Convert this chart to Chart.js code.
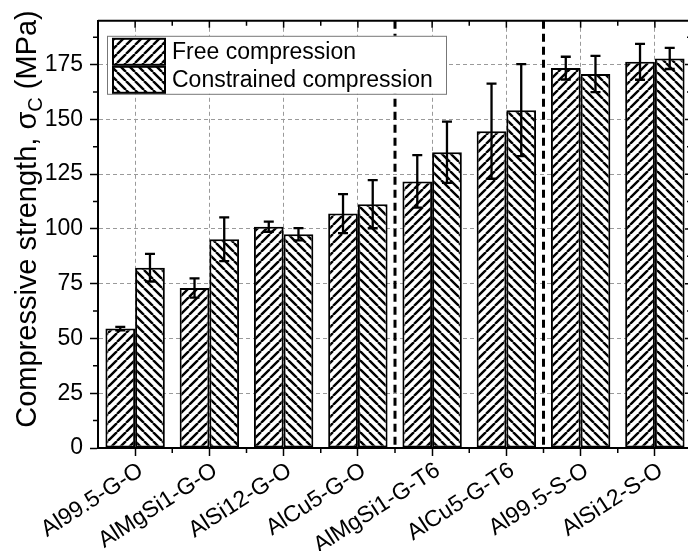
<!DOCTYPE html>
<html>
<head>
<meta charset="utf-8">
<script src="https://cdn.jsdelivr.net/npm/chart.js@4.4.1/dist/chart.umd.min.js"></script>
<style>
  html, body { margin: 0; padding: 0; background: #fff; overflow: hidden; width: 688px; height: 551px; }
  canvas { display: block; }
</style>
</head>
<body>
<canvas id="chart" width="695" height="551"></canvas>
<script>
// Compressive strength of cast (G) and sintered (S) alloys, free vs constrained.
const categories = ['Al99.5-G-O', 'AlMgSi1-G-O', 'AlSi12-G-O', 'AlCu5-G-O', 'AlMgSi1-G-T6', 'AlCu5-G-T6', 'Al99.5-S-O', 'AlSi12-S-O'];
const freeValues = [54.5, 73, 101, 107, 121.7, 144.6, 173.4, 176.3];
const freeErrors = [0.8, 4.4, 2.3, 8.9, 12, 21.7, 5.2, 8.2];
const constrainedValues = [82.3, 95.3, 97.6, 111.3, 135, 154.2, 170.7, 177.8];
const constrainedErrors = [6.3, 10, 2.8, 11, 14, 21, 8.3, 4.8];
const yTicks = [0, 25, 50, 75, 100, 125, 150, 175];
const separators = [3.5, 5.5];

const FONT = '"Liberation Sans", Arial, sans-serif';

// Black hatch on white, "/" for dir=1 and "\" for dir=-1.
function hatch(dir) {
    const s = 9;
    const c = document.createElement('canvas');
    c.width = s; c.height = s;
    const g = c.getContext('2d');
    g.fillStyle = '#fff';
    g.fillRect(0, 0, s, s);
    g.strokeStyle = '#000';
    g.lineWidth = 2.4;
    g.beginPath();
    for (const x0 of [-s, 0, s]) {
        if (dir > 0) { g.moveTo(x0, s); g.lineTo(x0 + s, 0); }
        else { g.moveTo(x0, 0); g.lineTo(x0 + s, s); }
    }
    g.stroke();
    return document.getElementById('chart').getContext('2d').createPattern(c, 'repeat');
}

const freeHatch = hatch(1);
const constrainedHatch = hatch(-1);

const decorPlugin = {
    id: 'decor',
    beforeDatasetsDraw(chart) {
        const { ctx, chartArea: a, scales: { x } } = chart;
        const step = x.getPixelForValue(1) - x.getPixelForValue(0);
        const px = v => x.getPixelForValue(0) + v * step;
        ctx.save();
        ctx.strokeStyle = '#000';
        ctx.lineWidth = 3;
        ctx.setLineDash([8, 5]);
        for (const s of separators) {
            ctx.beginPath();
            ctx.moveTo(px(s), a.top);
            ctx.lineTo(px(s), a.bottom);
            ctx.stroke();
        }
        ctx.restore();
    },
    afterDatasetsDraw(chart) {
        const { ctx, chartArea: a, scales: { x, y } } = chart;
        const step = x.getPixelForValue(1) - x.getPixelForValue(0);
        const px = v => x.getPixelForValue(0) + v * step;

        // error bars
        ctx.save();
        ctx.strokeStyle = '#000';
        ctx.lineWidth = 2.3;
        chart.data.datasets.forEach((ds, di) => {
            chart.getDatasetMeta(di).data.forEach((bar, i) => {
                const v = ds.data[i], e = ds.errors[i];
                const y1 = y.getPixelForValue(v + e), y2 = y.getPixelForValue(v - e);
                ctx.beginPath();
                ctx.moveTo(bar.x, y1); ctx.lineTo(bar.x, y2);
                ctx.moveTo(bar.x - 5, y1); ctx.lineTo(bar.x + 5, y1);
                ctx.moveTo(bar.x - 5, y2); ctx.lineTo(bar.x + 5, y2);
                ctx.stroke();
            });
        });

        // top and right frame with inward ticks, minor ticks outside
        ctx.lineWidth = 2;
        ctx.beginPath();
        ctx.moveTo(a.left, a.top); ctx.lineTo(a.right, a.top); ctx.lineTo(a.right, a.bottom);
        ctx.stroke();
        ctx.lineWidth = 1.5;
        ctx.beginPath();
        for (let i = 0; i < categories.length; i++) {
            ctx.moveTo(px(i), a.top); ctx.lineTo(px(i), a.top + 7);
            ctx.moveTo(px(i + 0.5), a.top); ctx.lineTo(px(i + 0.5), a.top + 5);
            ctx.moveTo(px(i + 0.5), a.bottom); ctx.lineTo(px(i + 0.5), a.bottom + 5);
        }
        for (let v = 12.5; v < 195; v += 12.5) {
            const yy = y.getPixelForValue(v);
            const major = v % 25 === 0;
            ctx.moveTo(a.right, yy); ctx.lineTo(a.right - (major ? 7 : 5), yy);
            if (!major) { ctx.moveTo(a.left, yy); ctx.lineTo(a.left - 5, yy); }
        }
        ctx.stroke();

        // legend
        const lx = a.left + 9, ly = a.top + 15;
        ctx.fillStyle = '#fff';
        ctx.fillRect(lx, ly, 339, 58);
        ctx.strokeStyle = '#777';
        ctx.lineWidth = 1;
        ctx.strokeRect(lx + 0.5, ly + 0.5, 339, 58);
        const items = [[freeHatch, 'Free compression'], [constrainedHatch, 'Constrained compression']];
        items.forEach(([pat, text], k) => {
            const sy = ly + 3 + k * 28;
            ctx.fillStyle = pat;
            ctx.fillRect(a.left + 15, sy, 52, 26);
            ctx.strokeStyle = '#000';
            ctx.lineWidth = 2;
            ctx.strokeRect(a.left + 15, sy, 52, 26);
            ctx.fillStyle = '#000';
            ctx.font = '23px ' + FONT;
            ctx.textBaseline = 'middle';
            ctx.textAlign = 'left';
            ctx.fillText(text, a.left + 74, sy + 14);
        });

        // y axis title with subscript
        ctx.translate(36, 219);
        ctx.rotate(-Math.PI / 2);
        ctx.textBaseline = 'alphabetic';
        ctx.textAlign = 'left';
        const big = '29px ' + FONT, small = '20px ' + FONT;
        const p1 = 'Compressive strength, \u03C3', p2 = 'C', p3 = ' (MPa)';
        ctx.font = big; const w1 = ctx.measureText(p1).width, w3 = ctx.measureText(p3).width;
        ctx.font = small; const w2 = ctx.measureText(p2).width;
        let tx = -(w1 + w2 + w3) / 2;
        ctx.font = big; ctx.fillText(p1, tx, 0); tx += w1;
        ctx.font = small; ctx.fillText(p2, tx, 6); tx += w2;
        ctx.font = big; ctx.fillText(p3, tx, 0);
        ctx.restore();
    }
};

new Chart(document.getElementById('chart'), {
    type: 'bar',
    data: {
        labels: categories,
        datasets: [
            { label: 'Free compression', data: freeValues, errors: freeErrors, backgroundColor: freeHatch, borderColor: '#000', borderWidth: 2, borderSkipped: false },
            { label: 'Constrained compression', data: constrainedValues, errors: constrainedErrors, backgroundColor: constrainedHatch, borderColor: '#000', borderWidth: 2, borderSkipped: false },
        ]
    },
    options: {
        responsive: false,
        animation: false,
        layout: { padding: { top: 8, right: 3, left: 0, bottom: 0 } },
        datasets: { bar: { categoryPercentage: 0.8, barPercentage: 1 } },
        plugins: { legend: { display: false }, tooltip: { enabled: false } },
        scales: {
            x: {
                grid: { offset: false, color: '#9a9a9a', lineWidth: 1, tickColor: '#000', tickLength: 8, tickWidth: 1.5 },
                border: { color: '#000', width: 2, dash: [4, 3] },
                ticks: { color: '#000', font: { family: FONT, size: 23 }, minRotation: 33, maxRotation: 33, autoSkip: false, padding: 1, labelOffset: 6 },
                afterFit: s => { s.height = 103; }
            },
            y: {
                min: 0, max: 195,
                grid: { color: '#9a9a9a', lineWidth: 1, tickColor: '#000', tickLength: 8, tickWidth: 1.5 },
                border: { color: '#000', width: 2, dash: [4, 3] },
                ticks: { color: '#000', font: { family: FONT, size: 23 }, stepSize: 25, includeBounds: false, padding: 7 },
                afterBuildTicks: s => { s.ticks = yTicks.map(v => ({ value: v })); },
                afterFit: s => { s.width = 98; }
            }
        }
    },
    plugins: [decorPlugin]
});
</script>
</body>
</html>
